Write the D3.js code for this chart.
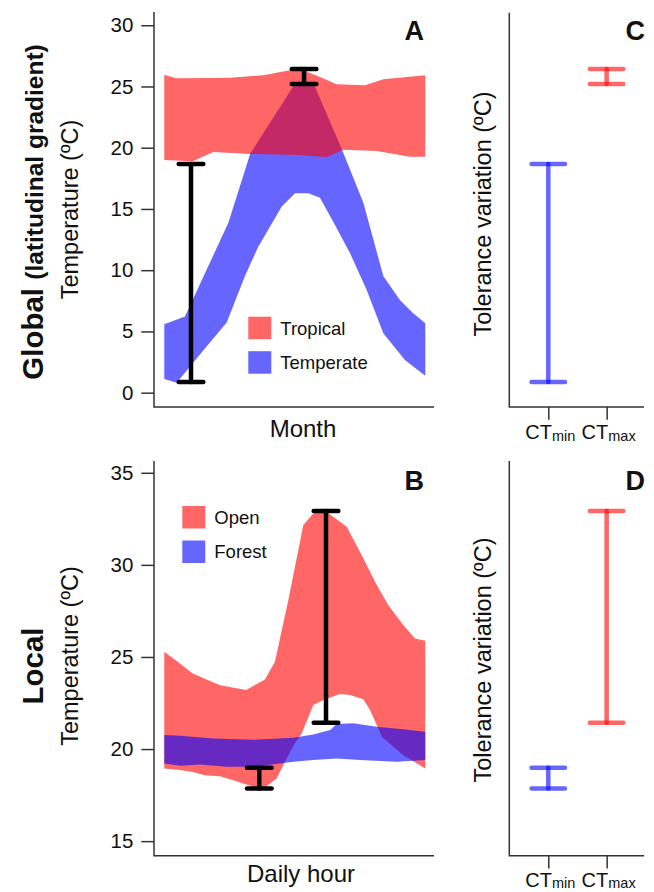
<!DOCTYPE html>
<html>
<head>
<meta charset="utf-8">
<script src="https://cdn.jsdelivr.net/npm/d3@7"></script>
<style>
  body { margin: 0; background: #fff; }
  svg text { font-family: "Liberation Sans", Arial, sans-serif; fill: #111; }
  .axis line { stroke: #333; stroke-width: 1.5; }
  .frame { stroke: #333; stroke-width: 1.5; fill: none; }
</style>
</head>
<body>
<svg id="fig" width="654" height="892"></svg>
<script>
// ---- data ----
// panel A: [month, temperature]
const tropicalUpper = [[1,25.96],[1.48,25.67],[3.07,25.69],[3.77,25.71],[5.24,25.93],[6.16,26.29],[6.72,26.42],
                       [7.56,25.78],[8.26,25.18],[9.46,25.09],[10.23,25.58],[12,25.91]];
const tropicalLower = [[1,19.0],[2.2,18.9],[3.07,19.65],[4.61,19.49],[6.72,19.41],[7.84,19.22],[8.54,19.84],
                       [9.95,19.73],[11.35,19.27],[12,19.27]];
const temperateUpper = [[1,5.58],[1.87,6.21],[3.70,13.88],[4.62,19.5],[6.5,25.2],[7.3,25.2],[8.5,19.8],
                        [9.39,15.5],[10.23,9.53],[10.93,7.57],[11.49,6.48],[12,5.66]];
const temperateLower = [[1,1.12],[1.52,0.82],[2.78,3.76],[3.63,5.72],[4.40,9.53],[4.96,11.92],[5.95,15.19],
                        [6.51,16.28],[7.07,16.28],[7.56,15.92],[8.12,13.96],[8.83,11.38],[9.53,8.39],
                        [10.23,4.85],[11.14,2.67],[12,1.39]];

// panel B: [hour, temperature]
const openUpper = [[0,25.28],[1.38,24.65],[2.5,24.10],[3.73,23.78],[4.91,23.47],[7.2,23.20],[8.87,23.78],
                   [9.75,24.74],[10.93,28.09],[12.25,32.16],[13.13,32.79],[14.16,32.92],[14.89,32.61],
                   [16.07,32.07],[17.39,30.53],[18.57,29.08],[19.74,27.81],[21.06,26.73],[22.09,26.0],[23,25.88]];
const openLower = [[0,18.95],[1.38,18.86],[2.41,18.77],[3.58,18.58],[4.91,18.53],[6.08,18.31],[7.84,17.95],
                   [8.73,17.86],[9.9,18.4],[10.78,19.49],[11.5,20.3],[12.11,20.85],[13.13,22.39],[14.01,22.66],
                   [15.48,22.99],[16.36,22.93],[17.54,22.70],[18.13,22.12],[18.86,21.12],[19.16,20.67],
                   [21.06,19.67],[23,18.95]];
const forestUpper = [[0,20.76],[1.38,20.72],[4.32,20.57],[7.84,20.50],[11.37,20.61],[13.13,20.79],[14.62,21.03],
                     [15.19,21.36],[16.65,21.40],[18.72,21.21],[21.03,21.08],[23,20.94]];
const forestLower = [[0,19.22],[1.38,19.09],[3.14,19.16],[5.49,19.04],[7.84,19.04],[11.37,19.31],[13.13,19.40],
                     [15.19,19.49],[17.24,19.40],[20.48,19.31],[23,19.40]];

// tolerance ranges: [position in panel A/B, low, high]
const traits       = ["min", "max"];
const globalRanges = [[2.125, 0.88, 18.67], [6.89, 25.2, 26.43]];
const localRanges  = [[8.37, 17.86, 18.98], [14.25, 21.43, 32.92]];

const ticksA = [0, 5, 10, 15, 20, 25, 30];
const ticksB = [15, 20, 25, 30, 35];

const RED  = "rgba(255,0,0,0.6)",
      BLUE = "rgba(0,0,255,0.6)";

// ---- scales ----
const svg = d3.select("#fig"),
      xA  = d3.scaleLinear().domain([1, 12]).range([164.3, 425.3]),
      yA  = d3.scaleLinear().domain([-1.17, 31.08]).range([407, 12]),
      xB  = d3.scaleLinear().domain([0, 23]).range([164.3, 425.3]),
      yB  = d3.scaleLinear().domain([14.21, 35.64]).range([855.7, 461]),
      xT  = d3.scaleLinear().domain([0.332, 2.64]).range([509.3, 644]);

function band(g, upper, lower, x, y, color) {
  let line = d3.line().x(d => x(d[0])).y(d => y(d[1]));
  g.append("path")
    .attr("d", line(upper.concat(lower.slice().reverse())) + "Z")
    .attr("fill", color);
}

function errorbar(g, xp, lo, hi, half, color) {
  let bar = g.append("g")
    .attr("stroke", color)
    .attr("stroke-width", 4.5)
    .attr("stroke-linecap", "round");
  bar.append("line").attr("x1", xp).attr("x2", xp).attr("y1", lo).attr("y2", hi);
  bar.append("line").attr("x1", xp - half).attr("x2", xp + half).attr("y1", lo).attr("y2", lo);
  bar.append("line").attr("x1", xp - half).attr("x2", xp + half).attr("y1", hi).attr("y2", hi);
}

function frame(left, right, top, bottom) {
  svg.append("path").attr("class", "frame")
    .attr("d", `M${left},${top}V${bottom}H${right}`);
}

function yAxis(y, ticks) {
  svg.append("g")
    .attr("class", "axis")
    .attr("transform", "translate(154,0)")
    .call(d3.axisLeft(y).tickValues(ticks).tickSize(12.7).tickPadding(8))
    .call(g => g.select(".domain").remove())
    .selectAll("text")
      .attr("font-size", 20.5)
      .attr("fill", "#111");
}

function vtext(x, y, str, size, bold) {
  return svg.append("text")
    .attr("transform", `translate(${x},${y}) rotate(-90)`)
    .attr("text-anchor", "middle")
    .attr("font-size", size)
    .attr("font-weight", bold ? "bold" : null)
    .text(str);
}

function legend(items, x0, y0) {
  items.forEach((it, i) => {
    svg.append("rect").attr("x", x0).attr("y", y0 + i * 34.5)
      .attr("width", 23).attr("height", 22.5).attr("fill", it[1]);
    svg.append("text").attr("x", x0 + 32).attr("y", y0 + 17.8 + i * 34.5)
      .attr("font-size", 18.5).text(it[0]);
  });
}

function traitAxis(yAxisLine, labelY) {
  svg.append("g")
    .attr("class", "axis")
    .attr("transform", `translate(0,${yAxisLine})`)
    .call(d3.axisBottom(xT).tickValues([1, 2]).tickSize(12.7).tickFormat(""))
    .call(g => g.select(".domain").remove());
  traits.forEach((t, i) => {
    let txt = svg.append("text")
      .attr("x", xT(i + 1) + 2).attr("y", labelY)
      .attr("text-anchor", "middle")
      .attr("font-size", 20);
    txt.append("tspan").text("CT");
    txt.append("tspan").attr("font-size", 14.5).attr("dy", 1.5).text(t);
  });
}

function panelLetter(x, y, s) {
  svg.append("text").attr("x", x).attr("y", y)
    .attr("text-anchor", "end").attr("font-size", 27).attr("font-weight", "bold").text(s);
}

// ---- panel A ----
let gA = svg.append("g");
band(gA, temperateUpper, temperateLower, xA, yA, BLUE);
band(gA, tropicalUpper, tropicalLower, xA, yA, RED);
globalRanges.forEach(r => errorbar(gA, xA(r[0]), yA(r[1]), yA(r[2]), 12.3, "#000"));
frame(154, 434, 12, 407);
yAxis(yA, ticksA);
legend([["Tropical", RED], ["Temperate", BLUE]], 248.3, 316.7);
panelLetter(424, 40, "A");

// ---- panel B ----
let gB = svg.append("g");
band(gB, openUpper, openLower, xB, yB, RED);
band(gB, forestUpper, forestLower, xB, yB, BLUE);
localRanges.forEach(r => errorbar(gB, xB(r[0]), yB(r[1]), yB(r[2]), 12.3, "#000"));
frame(154, 434, 461, 855.7);
yAxis(yB, ticksB);
legend([["Open", RED], ["Forest", BLUE]], 182.3, 506);
panelLetter(424, 489.5, "B");

// ---- panel C ----
let gC = svg.append("g");
globalRanges.forEach((r, i) => errorbar(gC, xT(i + 1), yA(r[1]), yA(r[2]), 16.7, i ? RED : BLUE));
frame(509.3, 644, 12.7, 407);
traitAxis(407, 439.3);
panelLetter(645, 39.5, "C");

// ---- panel D ----
let gD = svg.append("g");
localRanges.forEach((r, i) => errorbar(gD, xT(i + 1), yB(r[1]), yB(r[2]), 16.7, i ? RED : BLUE));
frame(509.3, 644, 461, 855.7);
traitAxis(855.7, 886.7);
panelLetter(645, 490, "D");

// ---- axis titles ----
svg.append("text").attr("x", 303).attr("y", 436.7).attr("text-anchor", "middle")
  .attr("font-size", 24).text("Month");
svg.append("text").attr("x", 301).attr("y", 881.7).attr("text-anchor", "middle")
  .attr("font-size", 24).text("Daily hour");

vtext(78, 209.5, "Temperature (ºC)", 23.5);
vtext(78, 656, "Temperature (ºC)", 23.5);
vtext(491, 214, "Tolerance variation (ºC)", 23.5);
vtext(491, 660, "Tolerance variation (ºC)", 23.5);

let glob = vtext(43, 212, "", 29.5, true);
glob.append("tspan").text("Global ");
glob.append("tspan").attr("font-size", 24.5).text("(latitudinal gradient)");
vtext(43, 666, "Local", 29.5, true);
</script>
</body>
</html>
